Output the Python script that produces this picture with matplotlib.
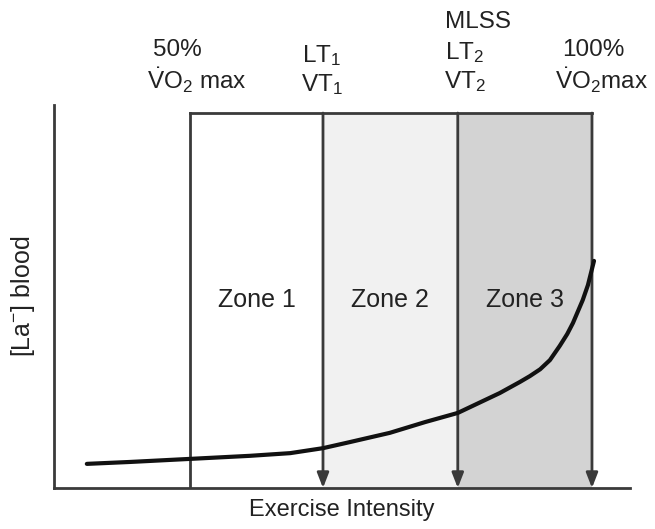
import matplotlib
matplotlib.use("Agg")
import matplotlib.pyplot as plt
from matplotlib.patches import Rectangle

plt.rcParams['font.family'] = ['Liberation Sans', 'DejaVu Sans']
plt.rcParams['mathtext.fontset'] = 'custom'
plt.rcParams['mathtext.rm'] = 'Liberation Sans'
plt.rcParams['mathtext.it'] = 'Liberation Sans:italic'
plt.rcParams['mathtext.bf'] = 'Liberation Sans:bold'

# Data (exercise intensity 0-100, blood lactate arbitrary 0-100)
curve_x = [5.7, 13.2, 23.6, 34.0, 41.0, 46.7, 51.4, 58.3, 64.4, 70.1, 77.4, 80.9, 82.6,
           84.4, 86.1, 87.8, 89.1, 90.1, 91.8, 92.7, 93.75]
curve_y = [6.3, 6.8, 7.6, 8.4, 9.1, 10.4, 12.0, 14.4, 17.2, 19.6, 24.8, 27.7, 29.2,
           31.0, 33.4, 37.1, 40.2, 43.1, 49.1, 53.0, 59.3]
thresholds = [23.6, 46.7, 70.1, 93.4]   # 50% VO2max, LT1/VT1, LT2/VT2, 100% VO2max
box_top = 97.9
zone_labels = ["Zone 1", "Zone 2", "Zone 3"]
zone_colors = ["#ffffff", "#f1f1f1", "#d3d3d3"]
zone_label_y = 49.0

W, H = 655, 529
fig = plt.figure(figsize=(W/100, H/100), dpi=100)
ax = fig.add_axes([54/W, (H-488)/H, (630-54)/W, (488-105)/H])
ax.set_xlim(0, 100)
ax.set_ylim(0, 100)
ax.set_xticks([])
ax.set_yticks([])
for s in ['top', 'right']:
    ax.spines[s].set_visible(False)
lc = "#3a3a3a"
for s in ['left', 'bottom']:
    ax.spines[s].set_color(lc)
    ax.spines[s].set_linewidth(2)

tc = '#222222'
# zone fills
for i in range(3):
    ax.add_patch(Rectangle((thresholds[i], 0), thresholds[i+1]-thresholds[i], box_top,
                           facecolor=zone_colors[i], edgecolor='none', zorder=1))
    ax.text((thresholds[i]+thresholds[i+1])/2, zone_label_y, zone_labels[i],
            ha='center', va='center', fontsize=18, color=tc, zorder=3)

# box top
ax.plot([thresholds[0], thresholds[-1]], [box_top, box_top], color=lc, lw=2, zorder=2,
        solid_capstyle='projecting')
# left vertical
ax.plot([thresholds[0]]*2, [0, box_top], color=lc, lw=2, zorder=2)
# arrows
for t in thresholds[1:]:
    ax.annotate("", xy=(t, 0), xytext=(t, box_top),
                arrowprops=dict(arrowstyle='-|>,head_length=0.9,head_width=0.35',
                                color=lc, lw=2, shrinkA=0, shrinkB=0), zorder=2)

# curve
ax.plot(curve_x, curve_y, color='#111111', lw=3, zorder=4,
        solid_capstyle='round', solid_joinstyle='round')

# labels
fs = 17.5
kw = dict(ha='center', va='center', fontsize=fs, color=tc, clip_on=False)
ax.text(21.4, 114.4, "50%", **kw)
ax.text(24.8, 106.5, r"$\dot{\mathrm{V}}\mathrm{O}_2$ max", **kw)
ax.text(46.5, 112.8, r"LT$_1$", **kw)
ax.text(46.5, 105.3, r"VT$_1$", **kw)
ax.text(73.6, 121.7, "MLSS", **kw)
ax.text(71.3, 113.8, r"LT$_2$", **kw)
ax.text(71.3, 106.0, r"VT$_2$", **kw)
ax.text(93.6, 114.4, "100%", **kw)
ax.text(95.0, 106.5, r"$\dot{\mathrm{V}}\mathrm{O}_2$max", **kw)

ax.set_xlabel("Exercise Intensity", fontsize=17, color=tc, labelpad=8)
ax.set_ylabel(r"[La$^{-}$] blood", fontsize=18, color=tc, labelpad=12)

fig.savefig("out.png", dpi=100)
